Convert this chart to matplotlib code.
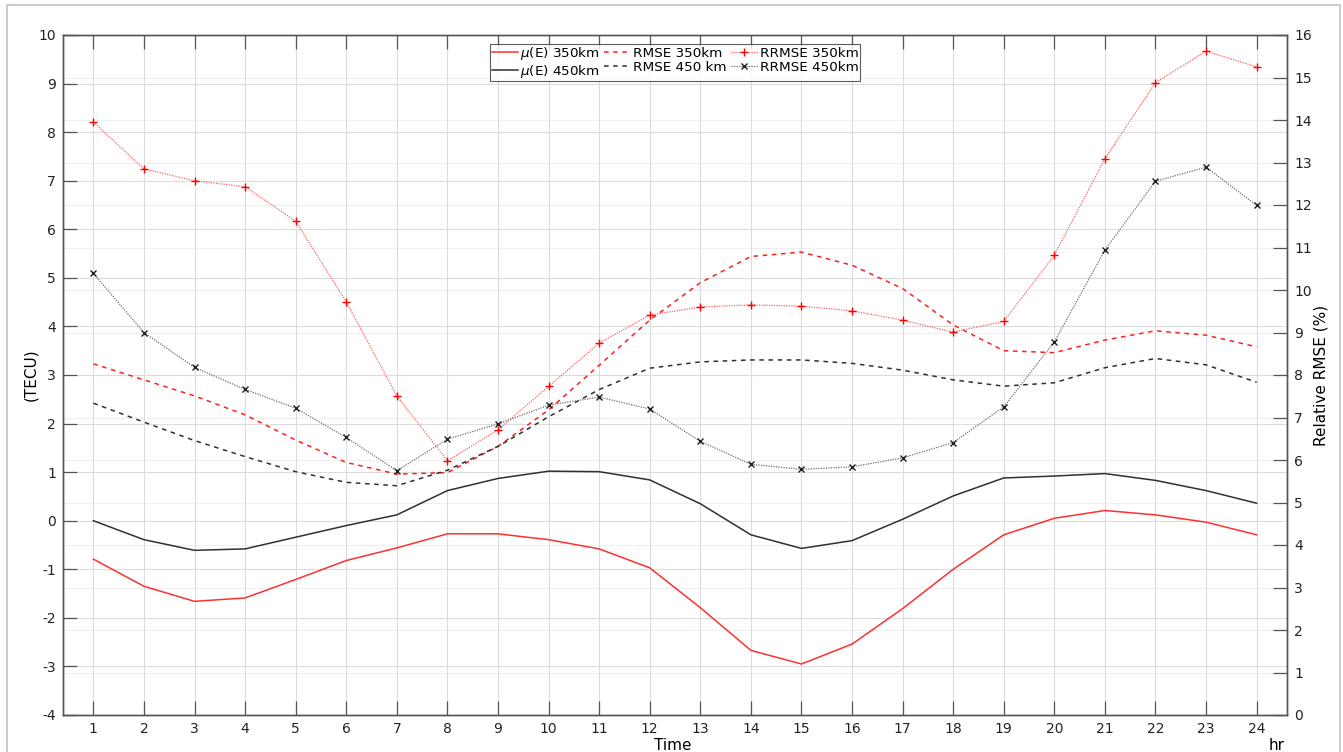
import matplotlib
matplotlib.use("Agg")
import matplotlib.pyplot as plt
from matplotlib.patches import Rectangle

hours = list(range(1, 25))

# left axis (TECU)
mu_350 = [-0.79, -1.35, -1.66, -1.59, -1.21, -0.82, -0.56, -0.27, -0.27, -0.39, -0.58, -0.97,
          -1.79, -2.67, -2.95, -2.54, -1.81, -1.00, -0.29, 0.05, 0.21, 0.12, -0.03, -0.29]
mu_450 = [0.00, -0.39, -0.61, -0.58, -0.34, -0.10, 0.12, 0.62, 0.87, 1.02, 1.01, 0.84,
          0.35, -0.29, -0.57, -0.41, 0.03, 0.51, 0.88, 0.92, 0.97, 0.83, 0.62, 0.36]
rmse_350 = [3.23, 2.90, 2.57, 2.18, 1.66, 1.20, 0.96, 0.99, 1.53, 2.28, 3.20, 4.13,
            4.90, 5.44, 5.53, 5.26, 4.78, 4.03, 3.50, 3.46, 3.72, 3.91, 3.82, 3.58]
rmse_450 = [2.42, 2.03, 1.65, 1.32, 1.01, 0.79, 0.72, 1.04, 1.53, 2.14, 2.70, 3.14,
            3.27, 3.31, 3.31, 3.24, 3.10, 2.90, 2.77, 2.84, 3.15, 3.34, 3.21, 2.85]

# right axis (Relative RMSE %)
rrmse_350 = [13.95, 12.85, 12.57, 12.43, 11.62, 9.72, 7.51, 5.98, 6.71, 7.73, 8.75, 9.41,
             9.60, 9.65, 9.62, 9.51, 9.29, 9.01, 9.26, 10.82, 13.09, 14.88, 15.62, 15.25]
rrmse_450 = [10.39, 9.00, 8.18, 7.66, 7.22, 6.53, 5.75, 6.49, 6.85, 7.29, 7.48, 7.20,
             6.44, 5.90, 5.78, 5.84, 6.05, 6.41, 7.25, 8.78, 10.94, 12.56, 12.89, 11.99]

left_lim = (-4, 10)
right_lim = (0, 16)

plt.rcParams['font.family'] = ['DejaVu Sans']
plt.rcParams['font.size'] = 10
plt.rcParams['axes.unicode_minus'] = False

fig = plt.figure(figsize=(13.43, 7.52), dpi=100)
fig.patches.append(Rectangle((7 / 1343, -0.01), 1333 / 1343, 1 - 5 / 752 + 0.01,
                             transform=fig.transFigure, fill=False,
                             edgecolor='#cccccc', linewidth=1.5))
ax = fig.add_axes([63 / 1343, 37 / 752, 1224 / 1343, 680 / 752])
ax2 = ax.twinx()

# faint grid lines for the right-hand ticks, drawn under the data
for r in range(right_lim[0], right_lim[1] + 1):
    yl = left_lim[0] + (r - right_lim[0]) * (left_lim[1] - left_lim[0]) / (right_lim[1] - right_lim[0])
    ax.axhline(yl, color='#efefef', lw=0.8, zorder=0.4)

l1, = ax.plot(hours, mu_350, color='#ff3030', lw=1.1, label=r'$\mu$(E) 350km')
l2, = ax.plot(hours, mu_450, color='#303030', lw=1.1, label=r'$\mu$(E) 450km')
l3, = ax.plot(hours, rmse_350, color='#ff2020', lw=1.1, ls=(0, (3, 3)), label='RMSE 350km')
l4, = ax.plot(hours, rmse_450, color='#303030', lw=1.1, ls=(0, (3, 3)), label='RMSE 450 km')
l5, = ax2.plot(hours, rrmse_350, color='#ff6060', lw=0.9, ls=(0, (1, 1)), marker='+',
               ms=6, mec='#ff0000', mew=1.0, label='RRMSE 350km')
l6, = ax2.plot(hours, rrmse_450, color='#707070', lw=0.9, ls=(0, (1, 1)), marker='x',
               ms=4, mec='#202020', mew=1.0, label='RRMSE 450km')

ax.set_xlim(0.4, 24.6)
ax.set_ylim(*left_lim)
ax.set_yticks(range(left_lim[0], left_lim[1] + 1))
ax.set_xticks(hours)
ax2.set_ylim(*right_lim)
ax2.set_yticks(range(right_lim[0], right_lim[1] + 1))

ax.grid(True, color='#dcdcdc', lw=0.8)
ax.set_axisbelow(True)

for a in (ax, ax2):
    for s in a.spines.values():
        s.set_color('#555555')
        s.set_linewidth(1.0)
ax.tick_params(axis='both', direction='in', length=10, color='#555555', width=0.9,
               labelcolor='#222222', top=True, pad=5)
ax2.tick_params(axis='y', direction='in', length=10, color='#555555', width=0.9,
                labelcolor='#222222', pad=5)

ax.set_ylabel('(TECU)', fontsize=11, labelpad=0)
ax2.set_ylabel('Relative RMSE (%)', fontsize=11, labelpad=1)
fig.text(673 / 1343, 1 - 745 / 752, 'Time', ha='center', va='center', fontsize=11)
fig.text(1277 / 1343, 1 - 745 / 752, 'hr', ha='center', va='center', fontsize=11)

leg = ax2.legend(handles=[l1, l2, l3, l4, l5, l6], ncol=3, loc='upper center',
                 bbox_to_anchor=(0.5, 0.987), fontsize=9.7, frameon=True, fancybox=False,
                 handlelength=2.0, handletextpad=0.15, columnspacing=0.3,
                 labelspacing=0.05, borderpad=0.1, borderaxespad=0)
leg.get_frame().set_edgecolor('#333333')
leg.get_frame().set_linewidth(0.8)

fig.savefig('out.png', dpi=100)
